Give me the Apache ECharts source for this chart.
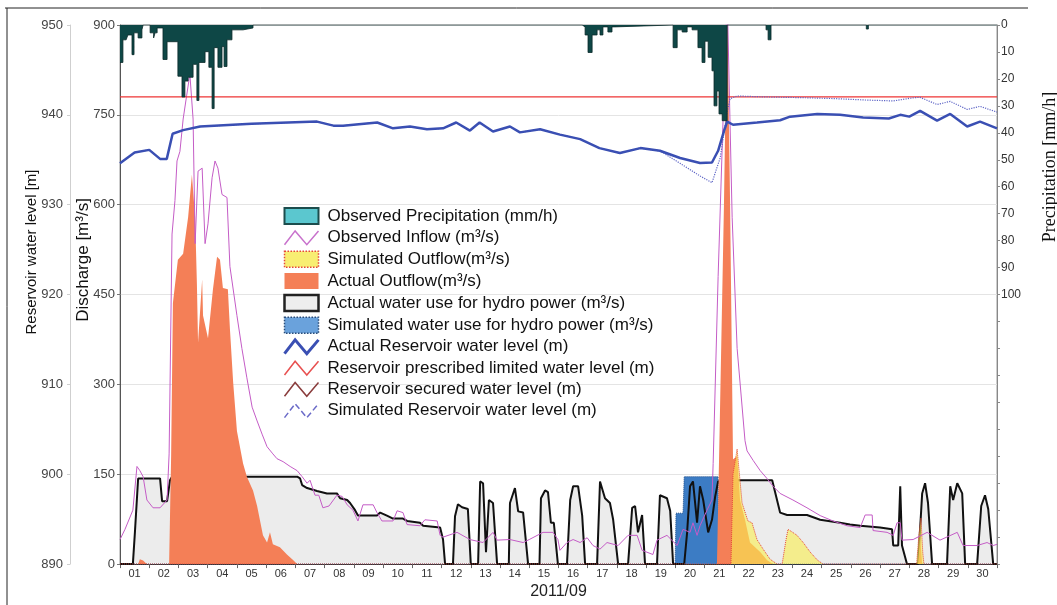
<!DOCTYPE html>
<html>
<head>
<meta charset="utf-8">
<script src="https://cdn.jsdelivr.net/npm/echarts@6/dist/echarts.min.js"></script>
<style>
html,body{margin:0;padding:0;background:#fff;}
#chart{width:1057px;height:605px;}
</style>
</head>
<body>
<div id="chart"></div>
<script>
// ---------- DATA (x = days since 2011-09-01 00:00) ----------
const dayLabels = ['01','02','03','04','05','06','07','08','09','10','11','12','13','14','15',
  '16','17','18','19','20','21','22','23','24','25','26','27','28','29','30'];

// Observed precipitation (mm/h), step values
const precipitation = [[0,13.9],[0.10,5.5],[0.21,6],[0.27,3.7],[0.41,11],[0.48,2.9],[0.62,4.8],[0.75,1.8],[0.79,0],
  [1.03,2.9],[1.15,4.8],[1.20,2.9],[1.27,1.1],[1.47,12.8],[1.61,6.2],[1.98,19],[2.12,26.7],[2.22,20.8],[2.33,19.4],
  [2.50,14.6],[2.63,28],[2.70,13.9],[2.91,9.9],[3.04,15.7],[3.15,31],[3.22,8.4],[3.35,15.7],[3.49,8],[3.56,15.4],
  [3.66,5.5],[3.83,1.8],[4.21,1.1],[4.55,0],
  [15.81,0.7],[15.91,3.7],[16.01,10.2],[16.15,3.7],[16.32,1.8],[16.42,3.7],[16.52,0.7],[16.69,2.6],[16.83,0.7],[16.93,0],
  [18.92,8.4],[19.06,1.8],[19.23,2.6],[19.40,0.7],[19.57,1.8],[19.77,8.4],[19.91,13.9],[20.01,6],[20.12,12],[20.25,17],
  [20.32,30],[20.42,24.5],[20.49,33],[20.60,35.5],[20.77,0],
  [22.10,1.8],[22.17,5.5],[22.27,0],[25.53,1.5],[25.60,0],[30,0]];

// Observed inflow (m3/s)
const observedInflow = [[0,41],[0.17,58],[0.44,90],[0.58,163],[0.68,156],[0.79,146],[0.92,107],[1.13,94],[1.37,94],
  [1.61,107],[1.68,184],[1.78,551],[1.88,607],[1.95,673],[2.05,689],[2.16,743],[2.39,818],[2.50,743],[2.57,535],
  [2.67,656],[2.81,661],[2.91,535],[3.01,568],[3.15,645],[3.25,673],[3.35,661],[3.49,617],[3.66,612],[3.76,497],
  [4.00,415],[4.17,360],[4.34,311],[4.52,262],[4.69,239],[4.86,217],[5.03,196],[5.23,184],[5.37,176],[5.58,171],
  [5.82,163],[6.06,156],[6.23,146],[6.40,135],[6.50,140],[6.67,115],[6.80,115],[6.94,94],[7.15,97],[7.42,115],
  [7.60,113],[7.77,99],[7.97,90],[8.14,72],[8.31,99],[8.66,99],[8.79,86],[8.96,72],[9.34,72],[9.48,89],[9.68,86],
  [9.82,66],[10.26,64],[10.43,74],[10.85,72],[10.95,48],[11.05,45],[11.53,53],[11.97,41],[12.42,36],[12.76,53],
  [12.90,40],[13.34,41],[13.79,36],[14.00,41],[14.47,53],[14.81,53],[14.98,41],[15.05,23],[15.29,36],[15.50,41],
  [15.74,36],[15.98,44],[16.18,31],[16.42,25],[16.66,36],[17.04,31],[17.38,48],[17.69,48],[17.86,23],[18.23,16],
  [18.37,40],[18.71,48],[19.06,31],[19.26,58],[19.50,53],[19.60,69],[19.74,48],[19.84,64],[20.08,90],[20.25,107],
  [20.29,168],[20.46,480],[20.63,743],[20.77,950],[20.83,950],[20.94,579],[21.11,360],[21.38,206],[21.45,189],
  [21.66,173],[21.90,156],[22.13,143],[22.34,130],[22.58,118],[23.02,107],[23.50,94],[23.95,81],[24.39,72],
  [24.87,64],[25.32,61],[25.49,82],[25.73,82],[25.76,56],[26.24,53],[26.45,48],[26.58,69],[26.69,69],[26.75,40],
  [27.13,41],[27.61,53],[28.05,40],[28.64,53],[28.84,31],[29.32,31],[29.66,36],[29.87,31],[30,33]];

// Simulated outflow (m3/s)
const simulatedOutflow = [[0,0],[20.90,0],[20.97,150],[21.11,192],[21.28,102],[21.48,72],[21.62,69],[21.79,41],
  [22.00,25],[22.24,8],[22.48,0],[22.65,0],[22.78,40],[22.85,58],[22.95,55],[23.16,48],[23.37,36],[23.61,20],
  [23.85,7],[24.05,0],[27.25,0],[27.33,50],[27.40,77],[27.46,20],[27.50,0],[30,0]];

// Actual outflow (m3/s)
const actualOutflow = [[0,0],[0.62,0],[0.68,8],[0.79,6],[0.92,0],[1.68,0],[1.75,184],[1.81,436],[1.98,508],
  [2.16,518],[2.33,579],[2.46,650],[2.57,579],[2.63,469],[2.67,370],[2.81,475],[2.84,415],[3.01,377],[3.18,459],
  [3.32,513],[3.42,508],[3.52,461],[3.69,459],[3.76,393],[3.87,304],[4.00,222],[4.21,168],[4.34,146],[4.55,123],
  [4.69,97],[4.89,48],[5.03,36],[5.13,53],[5.23,33],[5.47,28],[5.71,16],[5.92,7],[6.06,0],
  [20.42,0],[20.49,170],[20.66,600],[20.77,950],[20.87,600],[20.94,300],[20.97,175],[21.11,180],[21.21,107],
  [21.38,74],[21.55,36],[21.90,20],[22.13,7],[22.34,0],[27.30,0],[27.37,45],[27.44,0],[30,0]];

// Actual water use for hydro power (m3/s)
const actualHydroUse = [[0,0],[0.44,0],[0.51,53],[0.62,143],[1.37,143],[1.44,105],[1.61,105],[1.71,140],[1.78,146],
  [6.06,146],[6.16,143],[6.23,132],[6.40,127],[6.74,122],[7.08,118],[7.42,118],[7.53,110],[7.77,107],[7.87,102],
  [8.04,90],[8.14,81],[8.79,81],[8.90,86],[9.13,81],[9.34,76],[9.68,76],[9.82,72],[10.26,69],[10.37,64],[10.95,61],
  [11.05,41],[11.12,0],[11.39,0],[11.46,80],[11.56,100],[11.70,95],[11.90,92],[12.00,0],[12.25,0],[12.32,138],
  [12.42,135],[12.52,20],[12.62,107],[12.76,102],[12.90,0],[13.30,0],[13.34,102],[13.51,127],[13.62,88],[13.79,86],
  [13.96,0],[14.35,0],[14.40,110],[14.54,123],[14.64,120],[14.74,69],[14.84,69],[14.98,0],[15.29,0],[15.40,107],
  [15.50,130],[15.67,130],[15.81,81],[15.91,0],[16.32,0],[16.42,138],[16.59,110],[16.76,102],[16.87,74],[17.04,0],
  [17.38,0],[17.52,94],[17.62,97],[17.72,53],[17.86,82],[17.96,0],[18.37,0],[18.47,115],[18.71,110],[18.82,89],
  [18.92,0],[19.30,0],[19.40,53],[19.50,130],[19.60,138],[19.74,69],[19.84,130],[19.95,107],[20.12,53],[20.25,74],
  [20.36,113],[20.46,138],[20.60,140],[22.31,140],[22.58,86],[22.82,82],[23.50,82],[23.95,74],[24.63,69],[24.97,66],
  [25.32,64],[26.00,61],[26.41,58],[26.45,31],[26.62,31],[26.69,130],[26.75,31],[26.79,31],[26.92,0],[27.30,0],
  [27.44,118],[27.54,135],[27.64,102],[27.78,0],[28.29,0],[28.40,130],[28.50,107],[28.64,135],[28.81,118],[28.91,0],
  [29.32,0],[29.46,97],[29.59,115],[29.70,92],[29.87,0],[30,0]];

// Simulated water use for hydro power (m3/s)
const simulatedHydroUse = [[0,0],[18.99,0],[19.02,85],[19.26,85],[19.30,146],[20.46,146],[20.49,0],[30,0]];

// Actual reservoir water level (m)
const actualLevel = [[0,934.6],[0.5,935.8],[1.0,936.1],[1.37,935.1],[1.6,935.1],[1.8,937.9],[2.16,938.3],[2.74,938.7],
  [4.5,939.0],[6.74,939.25],[7.3,938.8],[7.63,938.8],[8.8,939.15],[9.34,938.5],[9.92,938.7],[10.5,938.4],[11.05,938.5],
  [11.5,939.15],[11.97,938.25],[12.3,939.15],[12.76,938.15],[13.34,938.7],[13.68,938.05],[14.37,938.4],[15.05,937.8],
  [15.74,937.3],[16.4,936.3],[17.1,935.75],[17.8,936.3],[18.47,936.0],[19.16,935.2],[19.84,934.65],[20.25,934.7],
  [20.46,936.0],[20.66,938.2],[20.77,939.25],[20.97,938.9],[21.79,939.15],[22.58,939.4],[22.92,939.8],[23.85,940.1],
  [24.63,940.0],[25.42,939.7],[26.3,939.6],[26.69,940.0],[27.0,939.8],[27.37,940.45],[27.95,939.35],[28.4,940.1],
  [28.98,938.7],[29.42,939.25],[30,938.5]];

// Simulated reservoir water level (m)
const simulatedLevel = [[0,934.6],[0.5,935.8],[1.0,936.1],[1.37,935.1],[1.6,935.1],[1.8,937.9],[2.16,938.3],[2.74,938.7],
  [4.5,939.0],[6.74,939.25],[7.3,938.8],[7.63,938.8],[8.8,939.15],[9.34,938.5],[9.92,938.7],[10.5,938.4],[11.05,938.5],
  [11.5,939.15],[11.97,938.25],[12.3,939.15],[12.76,938.15],[13.34,938.7],[13.68,938.05],[14.37,938.4],[15.05,937.8],
  [15.74,937.3],[16.4,936.3],[17.1,935.75],[17.8,936.3],[18.47,936.0],[19.16,934.6],[19.84,933.2],[20.25,932.45],
  [20.53,935.2],[20.77,940.35],[20.87,941.8],[21.11,942.1],[22.0,942.0],[23.5,941.9],[24.5,941.8],[25.5,941.65],
  [26.45,941.55],[27.13,941.9],[27.37,941.95],[27.95,941.15],[28.4,941.5],[28.98,940.6],[29.42,940.95],[30,940.3]];

// Reservoir prescribed limited water level (m)
const limitedLevel = [[0,942.0],[30,942.0]];
// Reservoir secured water level (m) - below the displayed range
const securedLevel = [];

// ---------- CHART ----------
const FONT = "'Liberation Sans', Arial, sans-serif";
const zig = 'path://M1,15 L11,2 L22,15 L33,2';
const chart = echarts.init(document.getElementById('chart'), null, {renderer: 'canvas'});

const N = {
  precip: 'Observed Precipitation (mm/h)',
  inflow: 'Observed Inflow (m³/s)',
  simOut: 'Simulated Outflow(m³/s)',
  actOut: 'Actual Outflow(m³/s)',
  actHydro: 'Actual water use for hydro power (m³/s)',
  simHydro: 'Simulated water use for hydro power (m³/s)',
  actLevel: 'Actual Reservoir water level (m)',
  limLevel: 'Reservoir prescribed limited water level (m)',
  secLevel: 'Reservoir secured water level (m)',
  simLevel: 'Simulated Reservoir water level (m)'
};

const option = {
  animation: false,
  backgroundColor: '#fff',
  grid: {left: 120, right: 60, top: 25, bottom: 33, show: true, borderColor: '#9a9a9a', borderWidth: 1, backgroundColor: 'transparent'},
  legend: {
    orient: 'vertical', left: 278, top: 202, itemWidth: 34, itemHeight: 16, itemGap: 4.3,
    selectedMode: false,
    textStyle: {fontFamily: FONT, fontSize: 17, color: '#111', padding: [0,0,0,4]},
    data: [
      {name: N.precip, icon: 'rect', itemStyle: {color: '#5bc7cf', borderColor: '#1c4d4d', borderWidth: 2}},
      {name: N.inflow, icon: zig, itemStyle: {color: 'rgba(0,0,0,0)', borderColor: '#c871cc', borderWidth: 1.5}},
      {name: N.simOut, icon: 'rect', itemStyle: {color: '#f8ee72', borderColor: '#e5473a', borderWidth: 1.5, borderType: 'dotted'}},
      {name: N.actOut, icon: 'rect', itemStyle: {color: '#f47f57', borderWidth: 0}},
      {name: N.actHydro, icon: 'rect', itemStyle: {color: '#eeeeee', borderColor: '#222', borderWidth: 2.5}},
      {name: N.simHydro, icon: 'rect', itemStyle: {color: '#6aa2dc', borderColor: '#2a4d7a', borderWidth: 1.5, borderType: 'dotted'}},
      {name: N.actLevel, icon: zig, itemStyle: {color: 'rgba(0,0,0,0)', borderColor: '#3a4fb3', borderWidth: 3}},
      {name: N.limLevel, icon: zig, itemStyle: {color: 'rgba(0,0,0,0)', borderColor: '#e85050', borderWidth: 1.5}},
      {name: N.secLevel, icon: zig, itemStyle: {color: 'rgba(0,0,0,0)', borderColor: '#8a3c3c', borderWidth: 1.5}},
      {name: N.simLevel, icon: zig, itemStyle: {color: 'rgba(0,0,0,0)', borderColor: '#6a6ac8', borderWidth: 1.5, borderType: 'dashed'}}
    ]
  },
  xAxis: [
    {
      type: 'category', data: dayLabels, boundaryGap: true, position: 'bottom',
      axisLine: {lineStyle: {color: '#333', width: 1}},
      axisTick: {show: true, length: 4, lineStyle: {color: '#666'}},
      axisLabel: {interval: 0, fontFamily: "'Liberation Sans Narrow', 'Liberation Sans', Arial", fontSize: 11, color: '#333', margin: 4},
      splitLine: {show: false},
      name: '2011/09', nameLocation: 'middle', nameGap: 17,
      nameTextStyle: {fontFamily: FONT, fontSize: 16, color: '#222'}
    },
    {type: 'value', min: 0, max: 30, show: false}
  ],
  yAxis: [
    {
      type: 'value', min: 0, max: 900, interval: 150, position: 'left',
      axisLine: {show: true, lineStyle: {color: '#555'}},
      axisTick: {show: true, length: 3, lineStyle: {color: '#777'}},
      axisLabel: {fontFamily: FONT, fontSize: 13, color: '#444', margin: 5},
      splitLine: {show: true, lineStyle: {color: '#e4e4e4'}}
    },
    {
      type: 'value', min: 890, max: 950, interval: 10, position: 'left', offset: 50,
      axisLine: {show: true, lineStyle: {color: '#cfcfcf'}},
      axisTick: {show: true, length: 3, lineStyle: {color: '#cfcfcf'}},
      axisLabel: {fontFamily: FONT, fontSize: 13, color: '#444', margin: 7},
      splitLine: {show: false}
    },
    {
      type: 'value', min: 0, max: 200, interval: 10, position: 'right', inverse: true,
      axisLine: {show: true, lineStyle: {color: '#888'}},
      axisTick: {show: true, length: 3, lineStyle: {color: '#888'}},
      axisLabel: {fontFamily: FONT, fontSize: 12, color: '#333', margin: 4,
        formatter: v => (v <= 100 ? String(v) : '')},
      splitLine: {show: false}
    }
  ],
  graphic: [
    {type: 'line', shape: {x1: 5, y1: 8, x2: 1028, y2: 8}, style: {stroke: '#222', lineWidth: 1}, silent: true},
    {type: 'line', shape: {x1: 7, y1: 8, x2: 7, y2: 605}, style: {stroke: '#222', lineWidth: 1}, silent: true},
    {type: 'text', x: 32, y: 252, rotation: Math.PI / 2,
      style: {text: 'Reservoir water level [m]', fontFamily: FONT, fontSize: 15, fill: '#111', textAlign: 'center', textVerticalAlign: 'middle'}},
    {type: 'text', x: 83, y: 260, rotation: Math.PI / 2,
      style: {text: 'Discharge [m³/s]', fontFamily: FONT, fontSize: 17, fill: '#111', textAlign: 'center', textVerticalAlign: 'middle'}},
    {type: 'text', x: 1050, y: 167, rotation: Math.PI / 2,
      style: {text: 'Precipitation [mm/h]', fontFamily: "'Liberation Serif', 'Times New Roman', serif", fontSize: 18, fill: '#111', textAlign: 'center', textVerticalAlign: 'middle'}}
  ],
  series: [
    {name: N.actHydro, type: 'line', xAxisIndex: 1, yAxisIndex: 0, data: actualHydroUse, symbol: 'none', z: 1,
      lineStyle: {width: 0, opacity: 0}, areaStyle: {color: '#ececec', opacity: 1}},
    {name: N.simHydro, type: 'line', xAxisIndex: 1, yAxisIndex: 0, data: simulatedHydroUse, symbol: 'none', z: 2,
      lineStyle: {width: 1, color: '#1f4f8c', type: 'dotted'}, itemStyle: {color: '#3c7cc4'}, areaStyle: {color: '#3c7cc4', opacity: 1}},
    {name: N.actHydro, type: 'line', xAxisIndex: 1, yAxisIndex: 0, data: actualHydroUse, symbol: 'none', z: 3,
      lineStyle: {width: 2, color: '#111'}, itemStyle: {color: '#111'}},
    {name: N.actOut, type: 'line', xAxisIndex: 1, yAxisIndex: 0, data: actualOutflow, symbol: 'none', z: 4,
      lineStyle: {width: 0, opacity: 0}, itemStyle: {color: '#f47f57'}, areaStyle: {color: '#f47f57', opacity: 1}},
    {name: N.simOut, type: 'line', xAxisIndex: 1, yAxisIndex: 0, data: simulatedOutflow, symbol: 'none', z: 5,
      lineStyle: {width: 1, color: '#e5473a', type: 'dotted'}, itemStyle: {color: '#f5ea60'}, areaStyle: {color: '#f8ee50', opacity: 0.62}},
    {name: N.inflow, type: 'line', xAxisIndex: 1, yAxisIndex: 0, data: observedInflow, symbol: 'none', z: 6,
      lineStyle: {width: 1, color: '#c45cc6'}, itemStyle: {color: '#c45cc6'}},
    {name: N.limLevel, type: 'line', xAxisIndex: 1, yAxisIndex: 1, data: limitedLevel, symbol: 'none', z: 7,
      lineStyle: {width: 1.2, color: '#ee3535'}, itemStyle: {color: '#ee3535'}},
    {name: N.secLevel, type: 'line', xAxisIndex: 1, yAxisIndex: 1, data: securedLevel, symbol: 'none', z: 7,
      lineStyle: {width: 1.2, color: '#8a3c3c'}, itemStyle: {color: '#8a3c3c'}},
    {name: N.simLevel, type: 'line', xAxisIndex: 1, yAxisIndex: 1, data: simulatedLevel, symbol: 'none', z: 8,
      lineStyle: {width: 1.2, color: '#5f66c6', type: 'dotted'}, itemStyle: {color: '#5f66c6'}},
    {name: N.actLevel, type: 'line', xAxisIndex: 1, yAxisIndex: 1, data: actualLevel, symbol: 'none', z: 9,
      lineStyle: {width: 2.5, color: '#3a4fb3'}, itemStyle: {color: '#3a4fb3'}},
    {name: N.precip, type: 'line', step: 'end', xAxisIndex: 1, yAxisIndex: 2, data: precipitation, symbol: 'none', z: 10,
      lineStyle: {width: 0.8, color: '#0a2828'}, itemStyle: {color: '#0e4746'}, areaStyle: {color: '#0e4746', opacity: 1}}
  ]
};
chart.setOption(option);
</script>
</body>
</html>
